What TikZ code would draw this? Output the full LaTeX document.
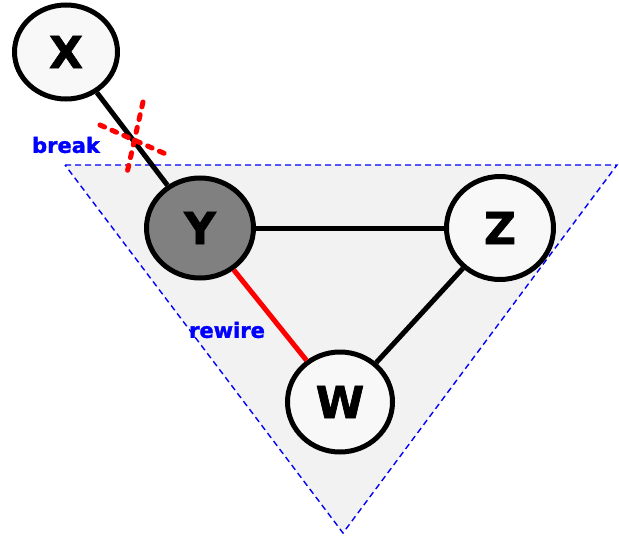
\documentclass[tikz,border=0pt]{standalone}
\usepackage{fontspec}
\setmainfont{DejaVu Sans}
\newfontfamily\heavyfont[FakeBold=1.5]{DejaVu Sans Bold}
\usetikzlibrary{shapes.geometric,calc}
\definecolor{nodefill}{HTML}{F8F8F8}
\definecolor{yfill}{HTML}{808080}
\definecolor{regionfill}{HTML}{F2F2F2}
\tikzset{
  vertex/.style={ellipse, draw=black, line width=5pt, fill=nodefill,
    inner sep=0pt, font=\heavyfont\fontsize{44}{50}\selectfont},
  link/.style={line width=5pt, black},
  rewired/.style={line width=5pt, red},
  cut/.style={red, line width=5pt, line cap=round, dash pattern=on 5pt off 8pt},
  region/.style={fill=regionfill, draw=blue, line width=1.4pt, dash pattern=on 6pt off 4pt},
  tag/.style={blue, font=\heavyfont\fontsize{21}{24}\selectfont}
}
\begin{document}
\begin{tikzpicture}[x=1pt,y=-1pt]
\useasboundingbox (0,0) rectangle (619,541);
% shaded community region
\coordinate (tl) at (65,165);
\coordinate (tr) at (617,165);
\coordinate (bt) at (343,533);
\draw[region] (tl) -- (tr) -- (bt) -- cycle;
% vertices
\node[vertex, minimum width=103pt, minimum height=94pt] (X) at (66,52) {X};
\node[vertex, minimum width=107pt, minimum height=100pt, fill=yfill] (Y) at (200,228) {Y};
\node[vertex, minimum width=107pt, minimum height=103pt] (Z) at (500,228) {Z};
\node[vertex, minimum width=105pt, minimum height=100pt] (W) at (340,402) {W};
% edges
\draw[link] (X) -- (Y);
\draw[link] (Y) -- (Z);
\draw[link] (Z) -- (W);
\draw[rewired] (Y) -- (W);
% cut mark on the X--Y edge
\coordinate (brk) at (134,140);
\draw[cut] ($(brk)+(-34,-15)$) -- ($(brk)+(34,15)$);
\draw[cut] ($(brk)+(9,-38)$) -- ($(brk)+(-7,33)$);
% labels
\node[tag] (lbreak) at (66,145) {break};
\node[tag] (lrewire) at (227,330) {rewire};
\end{tikzpicture}
\end{document}
